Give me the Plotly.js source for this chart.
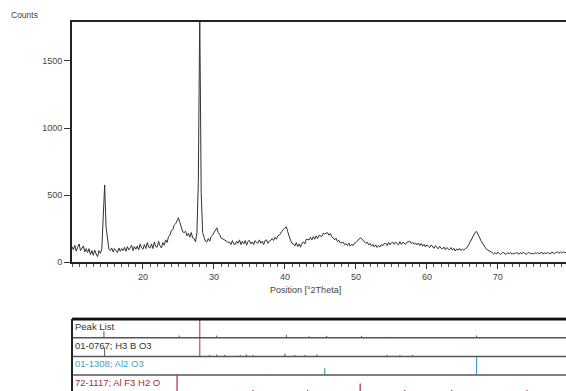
<!DOCTYPE html>
<html>
<head>
<meta charset="utf-8">
<script src="https://cdn.plot.ly/plotly-3.0.1.min.js"></script>
<style>html,body{margin:0;padding:0;background:#fff;}#chart{width:566px;height:391px;}</style>
</head>
<body>
<div id="chart"></div>
<script>
// XRD scan: start angle, step (deg 2Theta) and counts (5 values per degree)
var scanStart = 10;
var scanStep = 0.2;
var counts = [
  115, 90, 125, 80, 110,   // 10
  135, 85, 105, 120, 75,   // 11
  100, 70, 100, 55, 85,    // 12
  50, 90, 60, 40, 85,      // 13
  65, 95, 300, 575, 260,   // 14
  150, 95, 85, 105, 75,    // 15
  100, 85, 70, 105, 80,    // 16
  100, 85, 110, 80, 115,   // 17
  90, 105, 125, 85, 115,   // 18
  95, 120, 90, 135, 105,   // 19
  95, 130, 100, 145, 110,  // 20
  105, 135, 100, 150, 115, // 21
  110, 155, 120, 105, 145, // 22
  125, 165, 145, 190, 200, // 23
  235, 240, 275, 285, 315, // 24
  330, 295, 265, 225, 220, // 25
  230, 195, 215, 185, 220, // 26
  180, 175, 150, 220, 600, // 27
  1850, 520, 220, 185, 155,// 28
  150, 175, 155, 190, 200, // 29
  220, 240, 255, 220, 205, // 30
  180, 175, 170, 160, 155, // 31
  145, 150, 130, 160, 135, // 32
  130, 155, 140, 165, 130, // 33
  155, 135, 160, 125, 155, // 34
  160, 135, 150, 130, 160, // 35
  145, 140, 165, 140, 155, // 36
  130, 160, 165, 140, 155, // 37
  160, 175, 160, 185, 170, // 38
  195, 200, 220, 230, 245, // 39
  255, 262, 225, 190, 160, // 40
  140, 135, 120, 145, 115, // 41
  135, 110, 140, 150, 135, // 42
  170, 170, 165, 185, 165, // 43
  190, 170, 195, 175, 200, // 44
  195, 190, 215, 210, 215, // 45
  218, 200, 212, 188, 182, // 46
  165, 178, 152, 162, 142, // 47
  145, 148, 128, 138, 122, // 48
  142, 118, 132, 122, 142, // 49
  145, 155, 165, 180, 175, // 50
  160, 150, 138, 148, 128, // 51
  138, 118, 132, 112, 128, // 52
  108, 122, 112, 132, 122, // 53
  138, 138, 122, 148, 128, // 54
  143, 148, 132, 148, 138, // 55
  128, 152, 132, 148, 138, // 56
  132, 148, 150, 155, 138, // 57
  148, 132, 142, 128, 142, // 58
  122, 138, 118, 132, 112, // 59
  128, 118, 108, 128, 112, // 60
  102, 122, 108, 98, 118,  // 61
  102, 98, 112, 92, 108,   // 62
  98, 92, 108, 88, 102,    // 63
  82, 98, 88, 102, 85,     // 64
  98, 88, 100, 105, 120,   // 65
  140, 160, 185, 205, 220, // 66
  228, 210, 185, 160, 140, // 67
  120, 110, 95, 90, 80,    // 68
  75, 70, 60, 70, 58,      // 69
  74, 63, 56, 68, 72,      // 70
  60, 58, 70, 62, 72,      // 71
  56, 67, 60, 72, 64,      // 72
  58, 70, 60, 74, 62,      // 73
  56, 68, 72, 60, 67,      // 74
  58, 70, 62, 72, 60,      // 75
  68, 74, 58, 70, 62,      // 76
  72, 64, 60, 74, 66,      // 77
  63, 72, 76, 64, 74,      // 78
  66, 77, 68, 74, 78,      // 79
  70                       // 80
];

// Peak list and reference patterns (position, relative intensity %)
var peakListPos = [14.5, 25.1, 30.4, 40.2, 43.4, 45.9, 50.8, 54.8, 67.0];
var peakListInt = [35, 12, 12, 15, 8, 10, 10, 5, 12];
var mainPeakPos = [28.0];
var mainPeakInt = [100];
var h3bo3Pos = [14.6, 29.4, 30.4, 31.5, 33.7, 34.6, 35.5, 40.0, 41.4, 42.8, 44.5, 54.4, 56.2, 58.0];
var h3bo3Int = [48, 8, 10, 8, 8, 10, 8, 15, 8, 8, 10, 8, 8, 8];
var al2o3Pos = [37.6, 45.6, 67.0];
var al2o3Int = [5, 37, 100];
var alf3Pos = [24.8, 35.5, 43.2, 50.6, 56.9, 63.5, 74.1];
var alf3Int = [100, 20, 20, 55, 20, 20, 20];

var rowLabels = ["Peak List", "01-0767; H3 B O3", "01-1308; Al2 O3", "72-1117; Al F3 H2 O"];
var rowColors = ["#333333", "#333333", "#4a9cc4", "#a03040"];
var yTicks = [0, 500, 1000, 1500];
var xTicks = [20, 30, 40, 50, 60, 70];

function sticks(pos, ints, base) {
  var xs = [], ys = [];
  for (var i = 0; i < pos.length; i++) {
    xs.push(pos[i], pos[i], null);
    ys.push(base, base + ints[i] / 100, null);
  }
  return {x: xs, y: ys};
}
function stickTrace(pos, ints, base, color, w) {
  var s = sticks(pos, ints, base);
  return {x: s.x, y: s.y, xaxis: 'x2', yaxis: 'y2', mode: 'lines', type: 'scatter',
          line: {color: color, width: w || 1}, hoverinfo: 'skip'};
}

var font = "Liberation Sans, Arial, sans-serif";
var traces = [
  {y: counts, x0: scanStart, dx: scanStep, type: 'scatter', mode: 'lines',
   line: {color: '#333333', width: 1}, xaxis: 'x', yaxis: 'y'},
  stickTrace(peakListPos, peakListInt, 3, '#555555'),
  stickTrace(mainPeakPos, mainPeakInt, 3, '#b05a5a', 1.2),
  stickTrace(mainPeakPos, mainPeakInt, 2, '#b05a5a', 1.2),
  stickTrace(h3bo3Pos, h3bo3Int, 2, '#555555'),
  stickTrace(al2o3Pos, al2o3Int, 1, '#4a9cc4', 1.2),
  stickTrace(alf3Pos, alf3Int, 0, '#a03040', 1.2)
];

var shapes = [];
[3, 2, 1].forEach(function (v) {
  shapes.push({type: 'line', xref: 'paper', yref: 'y2', x0: 0, x1: 1, y0: v, y1: v,
               line: {color: '#555555', width: 1.5}});
});
shapes.push({type: 'line', xref: 'paper', yref: 'y2', x0: 0, x1: 1, y0: 4, y1: 4,
             line: {color: '#111111', width: 3}});
shapes.push({type: 'line', xref: 'paper', yref: 'y2', x0: 0, x1: 0, y0: 0.15, y1: 4,
             line: {color: '#222222', width: 2}});

var annotations = [
  {text: 'Counts', xref: 'paper', yref: 'paper', x: -0.128, y: 1.02, xanchor: 'left', yanchor: 'middle',
   showarrow: false, font: {family: font, size: 8.5, color: '#444'}},
  {text: 'Position [°2Theta]', xref: 'paper', yref: 'paper', x: 0.472, y: 0.274, xanchor: 'center', yanchor: 'middle',
   showarrow: false, font: {family: font, size: 9, color: '#444'}}
];
rowLabels.forEach(function (t, i) {
  annotations.push({text: t, xref: 'paper', yref: 'y2', x: 0.002, y: 4 - i, xanchor: 'left', yanchor: 'top',
    showarrow: false, font: {family: font, size: 9.5, color: rowColors[i]}});
});

var layout = {
  width: 566, height: 391,
  margin: {l: 72, r: 0, t: 22, b: 0},
  paper_bgcolor: '#fff', plot_bgcolor: '#fff',
  showlegend: false,
  font: {family: font, size: 9, color: '#444'},
  xaxis: {domain: [0, 1], range: [10, 79.6], anchor: 'y', showgrid: false, zeroline: false,
          showline: true, linewidth: 2, linecolor: '#222', mirror: true,
          tickmode: 'array', tickvals: xTicks, ticks: 'outside', ticklen: 5, tickwidth: 1, tickcolor: '#333',
          minor: {tickmode: 'linear', tick0: 0, dtick: 1, ticks: 'outside', ticklen: 3, tickcolor: '#555', showgrid: false},
          tickfont: {family: font, size: 9, color: '#444'}},
  yaxis: {domain: [0.3496, 1], range: [0, 1791], anchor: 'x', showgrid: false, zeroline: false,
          showline: true, linewidth: 2, linecolor: '#222',
          tickmode: 'array', tickvals: yTicks, ticks: 'outside', ticklen: 6, tickwidth: 1, tickcolor: '#333',
          tickfont: {family: font, size: 9, color: '#444'}},
  xaxis2: {domain: [0, 1], range: [10, 79.6], anchor: 'y2', visible: false},
  yaxis2: {domain: [0, 0.2], range: [0.15, 4.1], anchor: 'x2', visible: false},
  shapes: shapes,
  annotations: annotations
};

Plotly.newPlot('chart', traces, layout, {staticPlot: true, displayModeBar: false});
</script>
</body>
</html>
